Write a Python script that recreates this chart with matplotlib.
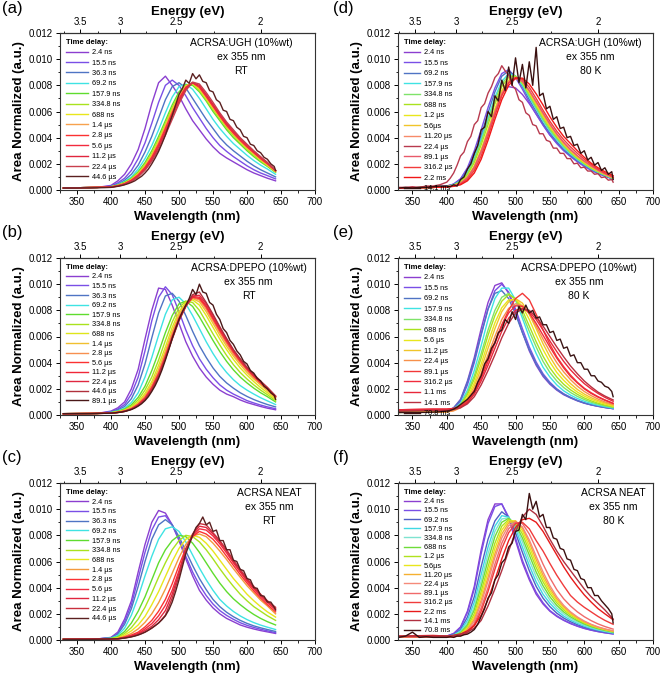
import numpy as np
import matplotlib.pyplot as plt
from matplotlib.ticker import FormatStrFormatter, MultipleLocator

plt.rcParams['font.family'] = ['Liberation Sans', 'DejaVu Sans']

# wavelength grids (nm); values below are in units of 1e-3 (area normalized)
wl = [330, 380, 400, 410, 420, 430, 440, 450, 460, 470, 480, 490, 500, 510,
      520, 530, 540, 550, 560, 570, 580, 590, 600, 610, 620, 630, 642]
wl_fine = [330, 340, 350, 360, 370, 380, 390] + list(range(400, 641, 5)) + [642]

# (a) ACRSA:UGH RT
a_labels = ['2.4 ns', '15.5 ns', '36.3 ns', '69.2 ns', '157.9 ns', '334.8 ns', '688 ns',
            '1.4 µs', '2.8 µs', '5.6 µs', '11.2 µs', '22.4 µs', '44.6 µs']
a_spectra = [
    [0.15,0.2,0.35,0.7,1.2,2.0,3.1,4.7,6.6,8.2,8.7,8.0,7.2,6.2,5.3,4.6,3.9,3.3,2.8,2.45,2.15,1.85,1.55,1.3,1.1,0.9,0.7],
    [0.15,0.2,0.3,0.55,0.9,1.5,2.4,3.6,5.1,6.7,8.0,8.4,8.0,7.2,6.3,5.5,4.7,4.0,3.4,2.95,2.55,2.2,1.85,1.55,1.3,1.1,0.85],
    [0.15,0.2,0.28,0.45,0.75,1.2,1.9,2.9,4.1,5.5,6.9,7.9,8.2,7.8,7.0,6.2,5.4,4.7,4.0,3.45,3.0,2.6,2.2,1.85,1.55,1.3,1.0],
    [0.15,0.2,0.25,0.4,0.65,1.0,1.6,2.4,3.4,4.6,5.9,7.1,7.9,8.1,7.7,7.0,6.2,5.4,4.7,4.1,3.55,3.1,2.65,2.25,1.9,1.6,1.2],
    [0.15,0.2,0.25,0.38,0.6,0.9,1.4,2.1,3.0,4.1,5.3,6.5,7.5,8.05,8.0,7.5,6.8,6.0,5.3,4.6,4.0,3.5,3.0,2.55,2.15,1.8,1.35],
    [0.15,0.2,0.25,0.36,0.55,0.85,1.3,1.95,2.8,3.9,5.1,6.3,7.3,8.0,8.1,7.6,6.9,6.15,5.45,4.75,4.15,3.6,3.1,2.65,2.25,1.85,1.4],
    [0.15,0.2,0.24,0.35,0.52,0.8,1.25,1.85,2.7,3.75,4.95,6.15,7.2,7.95,8.15,7.7,7.0,6.25,5.55,4.85,4.25,3.7,3.2,2.75,2.3,1.9,1.4],
    [0.15,0.2,0.24,0.34,0.5,0.78,1.2,1.8,2.6,3.65,4.85,6.05,7.1,7.9,8.2,7.8,7.1,6.35,5.6,4.9,4.3,3.75,3.25,2.8,2.35,1.95,1.45],
    [0.15,0.2,0.23,0.33,0.48,0.75,1.15,1.72,2.5,3.5,4.7,5.9,7.0,7.85,8.2,7.85,7.15,6.4,5.65,4.95,4.35,3.8,3.3,2.85,2.4,2.0,1.45],
    [0.15,0.2,0.23,0.32,0.46,0.72,1.1,1.65,2.4,3.4,4.55,5.75,6.9,7.8,8.2,7.9,7.2,6.45,5.7,5.0,4.4,3.85,3.35,2.9,2.45,2.05,1.5],
    [0.15,0.2,0.22,0.3,0.44,0.68,1.05,1.58,2.3,3.25,4.4,5.6,6.75,7.7,8.2,8.0,7.3,6.55,5.8,5.1,4.5,3.95,3.45,2.95,2.5,2.1,1.5],
    [0.15,0.2,0.22,0.3,0.42,0.65,1.0,1.5,2.2,3.1,4.2,5.4,6.6,7.6,8.25,8.1,7.45,6.7,5.9,5.2,4.6,4.0,3.5,3.0,2.55,2.1,1.5],
]
a_noisy = [0.15,0.15,0.15,0.16,0.16,0.17,0.18,
           0.2,0.24,0.28,0.33, 0.4,0.48,0.58,0.7, 0.88,1.05,1.3,1.6, 2.0,2.45,2.95,3.55,
           4.2,4.95,5.7,6.5, 7.3,7.75,8.4,8.15, 8.9,8.5,8.8,8.3, 8.2,7.6,7.5,6.9,
           6.7,6.1,6.0,5.4, 5.3,4.8,4.6,4.1, 4.0,3.5,3.4,3.0, 2.85,2.5,2.35,2.0, 1.8, 1.5]

# (b) ACRSA:DPEPO RT
b_labels = ['2.4 ns', '15.5 ns', '36.3 ns', '69.2 ns', '157.9 ns', '334.8 ns', '688 ns',
            '1.4 µs', '2.8 µs', '5.6 µs', '11.2 µs', '22.4 µs', '44.6 µs', '89.1 µs']
b_spectra = [
    [0.1,0.12,0.3,0.55,1.0,2.0,3.5,5.8,8.0,9.7,9.6,8.4,7.0,5.6,4.5,3.6,2.9,2.35,1.9,1.6,1.4,1.15,0.95,0.8,0.65,0.52,0.4],
    [0.1,0.12,0.25,0.45,0.8,1.6,2.9,4.9,7.2,9.0,9.8,9.2,7.9,6.5,5.3,4.3,3.5,2.85,2.3,1.9,1.6,1.35,1.1,0.92,0.76,0.62,0.48],
    [0.1,0.12,0.22,0.38,0.65,1.25,2.3,3.9,5.9,7.8,9.1,9.3,8.7,7.6,6.4,5.3,4.4,3.6,2.95,2.45,2.05,1.7,1.42,1.18,0.98,0.8,0.62],
    [0.1,0.12,0.2,0.32,0.52,0.95,1.7,2.9,4.4,6.1,7.7,8.8,9.0,8.5,7.6,6.6,5.6,4.7,3.9,3.25,2.7,2.25,1.9,1.6,1.32,1.08,0.8],
    [0.1,0.12,0.18,0.28,0.45,0.78,1.35,2.2,3.4,4.8,6.3,7.6,8.5,8.7,8.3,7.5,6.6,5.7,4.85,4.1,3.45,2.9,2.45,2.05,1.7,1.4,1.0],
    [0.1,0.12,0.17,0.26,0.4,0.68,1.15,1.9,2.9,4.2,5.7,7.1,8.2,8.7,8.6,8.0,7.1,6.2,5.35,4.55,3.85,3.25,2.75,2.3,1.9,1.55,1.1],
    [0.1,0.12,0.16,0.24,0.36,0.6,1.0,1.65,2.55,3.8,5.2,6.7,7.9,8.6,8.8,8.4,7.6,6.7,5.8,5.0,4.25,3.6,3.05,2.55,2.1,1.7,1.2],
    [0.1,0.12,0.15,0.22,0.33,0.55,0.9,1.5,2.35,3.5,4.9,6.4,7.7,8.5,8.9,8.65,7.9,7.0,6.1,5.25,4.5,3.85,3.25,2.75,2.3,1.85,1.3],
    [0.1,0.12,0.15,0.21,0.31,0.5,0.85,1.4,2.2,3.3,4.7,6.2,7.5,8.4,8.95,8.8,8.1,7.2,6.3,5.45,4.65,4.0,3.4,2.85,2.4,1.95,1.35],
    [0.1,0.12,0.14,0.2,0.3,0.48,0.8,1.3,2.1,3.15,4.5,6.0,7.4,8.35,9.0,8.9,8.25,7.35,6.45,5.6,4.8,4.1,3.5,2.95,2.45,2.0,1.4],
    [0.1,0.12,0.14,0.2,0.29,0.46,0.77,1.25,2.0,3.05,4.4,5.9,7.3,8.3,9.05,9.0,8.35,7.45,6.55,5.7,4.9,4.2,3.55,3.0,2.5,2.05,1.4],
    [0.1,0.12,0.14,0.19,0.28,0.45,0.75,1.2,1.95,3.0,4.35,5.85,7.25,8.3,9.1,9.15,8.5,7.6,6.65,5.8,4.95,4.25,3.6,3.05,2.55,2.1,1.45],
    [0.1,0.12,0.14,0.19,0.27,0.43,0.72,1.15,1.9,2.95,4.3,5.8,7.2,8.3,9.2,9.4,8.6,7.7,6.75,5.85,5.0,4.3,3.65,3.1,2.6,2.1,1.45],
]
b_noisy = [0.1,0.1,0.1,0.1,0.1,0.12,0.13,
           0.14,0.16,0.19,0.22, 0.27,0.34,0.42,0.53, 0.68,0.86,1.1,1.4, 1.8,2.25,2.8,3.45,
           4.2,5.0,5.85,6.6, 7.3,7.9,8.4,8.9, 9.6,9.2,10.0,9.4, 9.3,8.6,8.4,7.7,
           7.3,6.6,6.3,5.7, 5.4,4.9,4.6,4.1, 3.9,3.4,3.2,2.8, 2.6,2.2,2.0,1.7, 1.5, 1.2]

# (c) ACRSA NEAT RT
c_labels = ['2.4 ns', '15.5 ns', '36.3 ns', '69.2 ns', '157.9 ns', '334.8 ns', '688 ns',
            '1.4 µs', '2.8 µs', '5.6 µs', '11.2 µs', '22.4 µs', '44.6 µs']
c_spectra = [
    [0.05,0.08,0.2,0.6,1.6,3.0,5.2,7.3,9.0,9.9,9.7,8.8,7.6,6.2,4.9,3.8,3.05,2.45,2.0,1.65,1.4,1.15,0.98,0.84,0.72,0.62,0.5],
    [0.05,0.08,0.18,0.5,1.4,2.7,4.7,6.7,8.4,9.4,9.5,8.8,7.7,6.4,5.2,4.2,3.4,2.75,2.25,1.88,1.58,1.32,1.12,0.96,0.82,0.7,0.56],
    [0.05,0.08,0.16,0.45,1.2,2.4,4.1,6.0,7.7,8.8,9.2,8.8,7.9,6.8,5.7,4.7,3.85,3.1,2.55,2.12,1.78,1.5,1.27,1.08,0.93,0.8,0.65],
    [0.05,0.08,0.14,0.35,0.9,1.9,3.3,4.9,6.4,7.7,8.5,8.65,8.3,7.5,6.5,5.5,4.6,3.8,3.1,2.6,2.18,1.84,1.56,1.33,1.14,0.98,0.8],
    [0.05,0.08,0.12,0.25,0.65,1.3,2.2,3.3,4.6,5.9,6.9,7.6,8.0,7.9,7.4,6.7,5.9,5.1,4.35,3.7,3.15,2.7,2.3,1.95,1.65,1.4,1.15],
    [0.05,0.08,0.1,0.2,0.5,0.95,1.6,2.5,3.6,4.8,5.9,6.9,7.6,8.0,7.9,7.5,6.9,6.2,5.45,4.75,4.1,3.5,3.0,2.55,2.2,1.85,1.5],
    [0.05,0.08,0.09,0.16,0.38,0.7,1.15,1.8,2.7,3.7,4.85,6.0,7.0,7.7,8.0,7.85,7.4,6.8,6.1,5.4,4.7,4.1,3.5,3.0,2.55,2.15,1.75],
    [0.05,0.08,0.08,0.12,0.28,0.5,0.85,1.35,2.0,2.85,3.9,5.1,6.3,7.3,7.95,8.1,7.9,7.4,6.8,6.15,5.45,4.8,4.15,3.6,3.05,2.6,2.0],
    [0.05,0.08,0.08,0.1,0.22,0.38,0.6,1.0,1.5,2.2,3.1,4.3,5.7,7.0,7.9,8.3,8.1,7.7,7.1,6.4,5.7,5.0,4.35,3.75,3.2,2.7,2.15],
    [0.05,0.08,0.08,0.09,0.19,0.32,0.5,0.85,1.25,1.85,2.65,3.8,5.3,6.9,7.95,8.5,8.4,7.95,7.35,6.65,5.9,5.2,4.5,3.9,3.35,2.85,2.3],
    [0.05,0.08,0.08,0.08,0.17,0.28,0.45,0.72,1.05,1.55,2.25,3.5,5.1,6.9,8.05,8.7,8.6,8.1,7.5,6.8,6.0,5.3,4.6,4.0,3.45,2.95,2.4],
    [0.05,0.08,0.08,0.08,0.15,0.25,0.4,0.6,0.9,1.3,1.9,3.2,4.9,6.9,8.1,8.9,8.8,8.2,7.6,6.9,6.1,5.4,4.7,4.1,3.5,3.0,2.5],
]
c_noisy = [0.05,0.05,0.05,0.05,0.05,0.06,0.07,
           0.08,0.09,0.1,0.12, 0.15,0.19,0.24,0.3, 0.38,0.48,0.6,0.75, 0.92,1.1,1.3,1.55,
           1.85,2.3,2.9,3.7, 4.6,5.6,6.6,7.3, 8.0,8.6,8.9,9.4, 8.8,9.0,8.3,8.4,
           7.6,7.6,6.9,6.9, 6.1,6.0,5.4,5.3, 4.7,4.6,4.0,3.95, 3.4,3.35,2.9,2.9, 2.5, 2.3]

# (d) ACRSA:UGH 80 K
d_labels = ['2.4 ns', '15.5 ns', '69.2 ns', '157.9 ns', '334.8 ns', '688 ns', '1.2 µs',
            '5.6µs', '11.20 µs', '22.4 µs', '89.1 µs', '316.2 µs', '2.2 ms', '14.1 ms']
d_spectra = [
    [0.15,0.2,0.3,0.45,0.85,1.6,2.7,4.0,5.4,6.7,7.6,7.9,7.8,7.3,6.6,5.8,5.0,4.2,3.6,3.05,2.6,2.2,1.85,1.55,1.3,1.1,0.85],
    [0.15,0.2,0.3,0.45,0.85,1.7,3.0,4.6,6.3,7.8,8.9,9.2,8.6,7.7,6.7,5.8,4.95,4.2,3.55,3.0,2.55,2.15,1.8,1.5,1.25,1.05,0.82],
    [0.15,0.2,0.28,0.42,0.75,1.5,2.7,4.2,5.9,7.5,8.7,9.1,8.7,7.9,6.9,6.0,5.1,4.35,3.7,3.1,2.65,2.25,1.9,1.58,1.32,1.1,0.85],
    [0.15,0.2,0.27,0.4,0.7,1.35,2.45,3.9,5.5,7.1,8.3,8.9,8.7,8.0,7.1,6.2,5.3,4.5,3.85,3.25,2.75,2.32,1.95,1.62,1.36,1.13,0.87],
    [0.15,0.2,0.26,0.38,0.65,1.25,2.3,3.7,5.3,6.9,8.1,8.75,8.7,8.1,7.2,6.3,5.4,4.6,3.95,3.35,2.82,2.38,2.0,1.66,1.38,1.15,0.88],
    [0.15,0.2,0.25,0.36,0.6,1.15,2.1,3.45,5.0,6.6,7.9,8.6,8.7,8.2,7.35,6.45,5.55,4.75,4.05,3.45,2.9,2.45,2.05,1.7,1.42,1.18,0.9],
    [0.15,0.2,0.24,0.34,0.55,1.0,1.85,3.1,4.6,6.2,7.6,8.4,8.6,8.25,7.45,6.55,5.65,4.85,4.15,3.5,2.95,2.5,2.1,1.75,1.45,1.2,0.92],
    [0.15,0.2,0.24,0.33,0.52,0.95,1.75,3.0,4.5,6.1,7.5,8.35,8.6,8.3,7.55,6.65,5.75,4.95,4.2,3.55,3.0,2.55,2.15,1.78,1.48,1.22,0.94],
    [0.15,0.2,0.24,0.32,0.5,0.9,1.65,2.85,4.35,5.95,7.4,8.3,8.6,8.35,7.6,6.75,5.85,5.0,4.25,3.6,3.05,2.6,2.2,1.82,1.5,1.24,0.95],
    None,
    [0.15,0.2,0.25,0.33,0.52,0.95,1.75,2.95,4.4,5.95,7.3,8.2,8.5,8.3,7.6,6.75,5.9,5.05,4.3,3.65,3.1,2.62,2.2,1.85,1.52,1.25,0.95],
    [0.15,0.2,0.23,0.3,0.45,0.8,1.5,2.6,4.1,5.7,7.2,8.2,8.6,8.45,7.85,7.0,6.1,5.25,4.5,3.85,3.3,2.8,2.35,1.95,1.6,1.3,1.0],
    [0.15,0.2,0.22,0.28,0.4,0.7,1.3,2.35,3.8,5.4,6.9,8.0,8.55,8.55,8.1,7.35,6.5,5.6,4.8,4.1,3.55,3.0,2.5,2.05,1.7,1.4,1.1],
]
d_noisy_early = [0.2,0.2,0.25,0.2,0.3,0.3,0.4,
                 0.6,0.9,1.3,1.9, 2.6,2.9,3.7,4.1, 5.0,5.3,6.3,6.6, 7.4,7.9,8.6,8.9,
                 9.5,9.1,8.8,8.0, 7.7,6.9,6.7,5.9, 5.7,5.0,4.9,4.3, 4.3,3.8,3.7,3.2,
                 3.2,2.8,2.8,2.4, 2.4,2.0,2.05,1.7, 1.75,1.45,1.45,1.2, 1.25,0.95,1.0,0.75, 0.8, 0.6]
d_noisy = [0.15,0.2,0.15,0.2,0.2,0.25,0.3,
           0.3,0.25,0.4,0.3, 0.8,1.0,1.6,2.0, 2.8,3.4,4.6,4.8, 6.0,5.6,7.2,6.8,
           8.4,7.6,9.4,8.0, 10.1,8.2,9.6,7.8, 9.8,8.0,10.9,7.2, 7.4,6.2,6.4,5.4,
           5.6,4.7,4.8,4.0, 4.1,3.4,3.5,2.8, 3.0,2.3,2.5,1.9, 2.1,1.5,1.7,1.2, 1.4, 0.8]

# (e) ACRSA:DPEPO 80 K
e_labels = ['2.4 ns', '15.5 ns', '69.2 ns', '157.9 ns', '334.8 ns', '688 ns', '5.6 µs',
            '11.2 µs', '22.4 µs', '89.1 µs', '316.2 µs', '1.1 ms', '14.1 ms', '70.8 ms']
e_spectra = [
    [0.2,0.22,0.3,0.55,1.2,2.6,4.4,6.6,8.6,9.9,10.1,9.3,7.9,6.3,4.9,3.8,2.95,2.35,1.9,1.55,1.3,1.08,0.9,0.77,0.66,0.57,0.48],
    [0.2,0.22,0.28,0.5,1.05,2.3,4.0,6.1,8.1,9.5,10.0,9.4,8.1,6.6,5.2,4.05,3.15,2.5,2.0,1.62,1.35,1.12,0.93,0.79,0.68,0.58,0.49],
    [0.2,0.22,0.3,0.55,1.15,2.5,4.2,6.2,8.1,9.3,9.5,8.9,7.7,6.3,5.0,3.9,3.05,2.42,1.95,1.6,1.33,1.1,0.92,0.78,0.67,0.58,0.49],
    [0.2,0.22,0.27,0.45,0.9,1.9,3.4,5.3,7.3,8.9,9.7,9.7,8.8,7.4,5.95,4.7,3.65,2.9,2.3,1.85,1.52,1.26,1.05,0.88,0.75,0.64,0.53],
    [0.2,0.22,0.26,0.42,0.8,1.7,3.0,4.7,6.5,8.0,9.0,9.3,8.8,7.7,6.4,5.2,4.1,3.25,2.6,2.1,1.72,1.42,1.18,0.98,0.83,0.7,0.58],
    [0.2,0.22,0.25,0.4,0.75,1.55,2.75,4.35,6.1,7.6,8.7,9.2,8.9,8.0,6.8,5.6,4.5,3.6,2.9,2.35,1.92,1.58,1.3,1.08,0.9,0.76,0.62],
    [0.2,0.22,0.24,0.37,0.68,1.35,2.45,3.9,5.55,7.05,8.2,8.8,8.85,8.3,7.3,6.1,5.0,4.05,3.25,2.65,2.15,1.75,1.45,1.2,1.0,0.84,0.68],
    [0.2,0.22,0.24,0.35,0.62,1.2,2.2,3.55,5.1,6.6,7.9,8.65,8.9,8.55,7.7,6.6,5.45,4.45,3.6,2.95,2.4,1.95,1.6,1.32,1.1,0.92,0.74],
    [0.2,0.22,0.23,0.32,0.55,1.05,1.95,3.2,4.6,6.0,7.3,8.15,8.5,8.35,7.75,6.8,5.8,4.85,4.0,3.3,2.7,2.2,1.8,1.48,1.22,1.0,0.8],
    [0.4,0.45,0.45,0.5,0.7,1.1,1.9,3.0,4.3,5.6,6.9,8.0,8.9,9.3,8.8,7.7,6.5,5.4,4.45,3.7,3.05,2.5,2.05,1.7,1.4,1.15,0.9],
    [0.35,0.4,0.4,0.45,0.6,0.95,1.7,2.8,4.1,5.5,6.8,7.8,8.35,8.3,7.8,7.0,6.1,5.2,4.35,3.6,2.95,2.45,2.0,1.65,1.37,1.13,0.88],
    [0.4,0.45,0.45,0.5,0.62,0.95,1.6,2.6,3.8,5.1,6.4,7.4,8.0,8.15,7.9,7.3,6.5,5.65,4.85,4.1,3.45,2.9,2.4,2.0,1.65,1.35,1.05],
    [0.3,0.35,0.35,0.42,0.55,0.85,1.4,2.3,3.4,4.6,5.9,7.0,7.8,8.1,8.0,7.5,6.8,6.0,5.2,4.45,3.75,3.15,2.6,2.15,1.75,1.45,1.15],
]
e_noisy = [0.2,0.2,0.2,0.2,0.2,0.22,0.25,
           0.3,0.35,0.45,0.6, 0.8,1.0,1.2,1.5, 1.8,2.5,3.0,3.9, 4.3,5.1,5.5,6.3,
           6.5,7.3,7.0,7.9, 7.3,8.3,7.8,8.4, 7.8,8.0,7.4,7.5, 6.9,6.9,6.3,6.4,
           5.7,5.8,5.1,5.2, 4.5,4.6,4.0,4.0, 3.5,3.5,3.0,3.0, 2.6,2.5,2.2,2.1, 1.8, 1.4]

# (f) ACRSA NEAT 80 K
f_labels = ['2.4 ns', '15.5 ns', '69.2 ns', '157.9 ns', '334.8 ns', '688 ns', '1.2 µs',
            '5.6µs', '11.20 µs', '22.4 µs', '89.1 µs', '316.2 µs', '2.2 ms', '14.1 ms', '70.8 ms']
f_spectra = [
    [0.25,0.25,0.3,0.5,1.0,2.2,4.1,6.9,9.2,10.4,10.4,9.3,7.6,5.9,4.6,3.5,2.75,2.2,1.8,1.5,1.25,1.05,0.88,0.75,0.64,0.55,0.46],
    [0.25,0.25,0.3,0.48,0.95,2.1,3.9,6.6,8.9,10.2,10.4,9.4,7.8,6.1,4.75,3.65,2.85,2.25,1.85,1.53,1.28,1.07,0.9,0.76,0.65,0.56,0.47],
    [0.25,0.25,0.28,0.42,0.8,1.75,3.3,5.6,7.7,9.1,9.8,9.4,8.2,6.7,5.3,4.1,3.2,2.55,2.05,1.68,1.4,1.17,0.98,0.83,0.71,0.61,0.51],
    [0.25,0.25,0.27,0.38,0.7,1.5,2.9,5.0,7.1,8.7,9.5,9.4,8.5,7.1,5.7,4.45,3.5,2.8,2.25,1.83,1.52,1.27,1.06,0.89,0.76,0.65,0.54],
    [0.25,0.25,0.26,0.35,0.62,1.3,2.55,4.5,6.6,8.3,9.25,9.35,8.7,7.5,6.1,4.85,3.85,3.05,2.45,2.0,1.65,1.37,1.14,0.96,0.81,0.69,0.57],
    [0.25,0.25,0.26,0.33,0.56,1.15,2.3,4.1,6.1,7.9,9.0,9.3,8.85,7.8,6.5,5.2,4.15,3.3,2.65,2.15,1.77,1.47,1.22,1.02,0.86,0.73,0.6],
    [0.25,0.25,0.25,0.31,0.5,1.0,2.0,3.7,5.6,7.4,8.7,9.2,9.0,8.1,6.85,5.55,4.45,3.55,2.85,2.3,1.9,1.57,1.3,1.09,0.92,0.78,0.64],
    [0.25,0.25,0.25,0.3,0.46,0.9,1.8,3.4,5.2,7.0,8.4,9.1,9.1,8.35,7.15,5.85,4.7,3.75,3.0,2.42,1.98,1.63,1.35,1.13,0.95,0.8,0.66],
    [0.25,0.25,0.24,0.28,0.42,0.8,1.6,3.05,4.8,6.6,8.1,8.95,9.1,8.55,7.45,6.15,4.95,3.95,3.15,2.55,2.08,1.7,1.4,1.17,0.98,0.83,0.68],
    [0.25,0.25,0.24,0.27,0.38,0.72,1.45,2.8,4.5,6.3,7.8,8.75,9.0,8.65,7.65,6.4,5.2,4.15,3.3,2.65,2.15,1.76,1.45,1.2,1.0,0.85,0.7],
    [0.25,0.25,0.24,0.26,0.35,0.62,1.25,2.45,4.0,5.8,7.4,8.5,9.0,8.9,8.1,7.0,5.8,4.75,3.85,3.15,2.6,2.15,1.78,1.48,1.23,1.03,0.83],
    [0.25,0.25,0.23,0.25,0.32,0.55,1.1,2.2,3.7,5.4,7.0,8.2,8.9,9.0,8.5,7.6,6.8,5.85,4.95,4.15,3.4,2.9,2.5,2.15,1.8,1.5,1.2],
    [0.3,0.35,0.3,0.35,0.45,0.7,1.1,1.9,3.1,4.6,6.2,7.6,8.6,9.2,9.3,9.0,8.3,7.4,6.5,5.6,4.8,4.1,3.45,2.9,2.4,2.0,1.55],
    [0.3,0.3,0.3,0.35,0.45,0.6,0.9,1.5,2.6,3.9,5.3,6.8,8.3,9.4,10.0,9.6,8.7,7.7,6.8,6.0,5.3,4.6,3.9,3.3,2.8,2.3,1.6],
]
f_noisy = [0.2,0.3,0.6,0.2,0.25,0.2,0.2,
           0.2,0.25,0.2,0.3, 0.3,0.4,0.45,0.6, 0.8,1.2,1.8,2.4, 3.2,3.6,4.6,5.0,
           5.9,6.2,7.1,7.4, 8.3,8.4,9.6,9.2, 11.2,10.0,10.6,9.4, 9.6,8.6,8.6,7.8,
           7.7,7.0,6.9,6.2, 6.1,5.4,5.3,4.7, 4.6,4.0,4.0,3.4, 3.4,3.0,2.7,2.4, 2.0, 1.3]

pal_a = ['#8b3fd0', '#7a4fe6', '#4f74c4', '#3fe3e3', '#5fdc2e', '#a9e21e', '#e9e61c',
         '#f7a24e', '#fb3232', '#f22b3e', '#e0263e', '#c8404e', '#5b2020']
pal_b = ['#8b3fd0', '#7a4fe6', '#4f74c4', '#3fe3e3', '#5fdc2e', '#a9e21e', '#dfe51a',
         '#f0c030', '#f79050', '#fb3232', '#f02838', '#e02840', '#b0303c', '#4a1818']
pal_c = ['#8b3fd0', '#7a4fe6', '#4f74c4', '#3fe3e3', '#5fdc2e', '#a9e21e', '#e9e61c',
         '#f39a3e', '#fb3232', '#f22b3e', '#e0263e', '#c8303e', '#5b2020']
pal_d = ['#8b3fd0', '#7a4fe6', '#4f74c4', '#3fe3e3', '#7fe36a', '#a9e21e', '#e9e61c',
         '#f0c52a', '#f78a6a', '#b83a4e', '#e85a6a', '#f23c3c', '#f01818', '#3a1010']
pal_e = ['#8b3fd0', '#7a4fe6', '#4f74c4', '#3fe3e3', '#7fe36a', '#a9e21e', '#e9e61c',
         '#f0c52a', '#f7904a', '#f23838', '#f02c3c', '#e8283a', '#b83040', '#3a1414']
pal_f = ['#8b3fd0', '#7a4fe6', '#4f5fc4', '#3fd8e3', '#7fe3d0', '#6fdc3a', '#b0e21e',
         '#e9e61c', '#f5b030', '#f58a7a', '#f06a6a', '#f03c3c', '#e81a1a', '#b03040', '#3a1010']


def curves_of(spectra, noisy, early=None):
    out = []
    for s in spectra:
        if s is None:
            out.append((wl_fine, early))
        else:
            out.append((wl, s))
    out.append((wl_fine, noisy))
    for x, y in out:
        assert len(x) == len(y), (len(x), len(y))
    return out


def nm_ev(x):
    x = np.array(x, dtype=float)
    x[x == 0] = 1e-9
    return 1239.84 / x


def draw(rect, curves, labels, colors, note, note_x, xmin, lab_spacing, hlen):
    ax = fig.add_axes(rect)
    for (x, y), lab, col in zip(curves, labels, colors):
        ax.plot(x, np.array(y) * 1e-3, color=col, lw=1.0, label=lab)
    ax.set_xlim(xmin, 700)
    ax.set_ylim(0, 0.012)
    ax.set_xticks(range(350, 701, 50))
    ax.xaxis.set_minor_locator(MultipleLocator(25))
    ax.set_yticks(np.arange(0, 0.0121, 0.002))
    ax.yaxis.set_minor_locator(MultipleLocator(0.001))
    ax.yaxis.set_major_formatter(FormatStrFormatter('%.3f'))
    ax.tick_params(labelsize=7, length=3, width=0.7, pad=2)
    ax.tick_params(which='minor', length=1.8, width=0.6)
    for sp in ax.spines.values():
        sp.set_linewidth(0.8)
        sp.set_color('#333333')
    ax.set_xlabel('Wavelength (nm)', fontsize=9.5, fontweight='bold', labelpad=3)
    ax.set_ylabel('Area Normalized (a.u.)', fontsize=9.5, fontweight='bold', labelpad=3)
    sec = ax.secondary_xaxis('top', functions=(nm_ev, nm_ev))
    sec.set_xticks([2, 2.5, 3, 3.5])
    sec.set_xticklabels(['2', '2.5', '3', '3.5'])
    sec.set_xticks([2.25, 2.75, 3.25, 3.75], minor=True)
    sec.tick_params(labelsize=7, length=3, width=0.7, pad=1)
    sec.tick_params(which='minor', length=1.8, width=0.6)
    sec.spines['top'].set_linewidth(0.8)
    sec.set_xlabel('Energy (eV)', fontsize=9.5, fontweight='bold', labelpad=2)
    ax.text(note_x, 0.965, note, transform=ax.transAxes, ha='center', va='top',
            fontsize=7.5, linespacing=1.45)
    ax.legend(loc='upper left', bbox_to_anchor=(0.0, 1.0), frameon=False,
              fontsize=5.3, title='Time delay:', alignment='left',
              title_fontproperties={'weight': 'bold', 'size': 5.5},
              handlelength=hlen, handletextpad=0.5, labelspacing=lab_spacing,
              borderaxespad=0.4, borderpad=0.4)
    return ax


fig = plt.figure(figsize=(6.6, 6.76), dpi=100)

L, R, W = 60 / 660, 398 / 660, 255 / 660
H = 157 / 676
rows = [1 - 190 / 676, 1 - 415 / 676, 1 - 640 / 676]

draw([L, rows[0], W, H], curves_of(a_spectra, a_noisy), a_labels, pal_a,
     'ACRSA:UGH (10%wt)\nex 355 nm\nRT', 0.71, 325, 0.44, 3.0)
draw([L, rows[1], W, H], curves_of(b_spectra, b_noisy), b_labels, pal_b,
     'ACRSA:DPEPO (10%wt)\nex 355 nm\nRT', 0.74, 325, 0.33, 3.0)
draw([L, rows[2], W, H], curves_of(c_spectra, c_noisy), c_labels, pal_c,
     'ACRSA NEAT\nex 355 nm\nRT', 0.82, 325, 0.35, 3.0)
draw([R, rows[0], W, H], curves_of(d_spectra, d_noisy, d_noisy_early), d_labels, pal_d,
     'ACRSA:UGH (10%wt)\nex 355 nm\n80 K', 0.755, 329, 0.45, 2.2)
draw([R, rows[1], W, H], curves_of(e_spectra, e_noisy), e_labels, pal_e,
     'ACRSA:DPEPO (10%wt)\nex 355 nm\n80 K', 0.71, 329, 0.45, 2.2)
draw([R, rows[2], W, H], curves_of(f_spectra, f_noisy), f_labels, pal_f,
     'ACRSA NEAT\nex 355 nm\n80 K', 0.845, 329, 0.28, 2.2)

for lab, x, y in [('(a)', 0.003, 0.998), ('(b)', 0.003, 1 - 225 / 676), ('(c)', 0.003, 1 - 450 / 676),
                  ('(d)', 333 / 660, 0.998), ('(e)', 333 / 660, 1 - 225 / 676), ('(f)', 333 / 660, 1 - 450 / 676)]:
    fig.text(x, y, lab, fontsize=12, ha='left', va='top')

fig.savefig('out.png', dpi=100)
